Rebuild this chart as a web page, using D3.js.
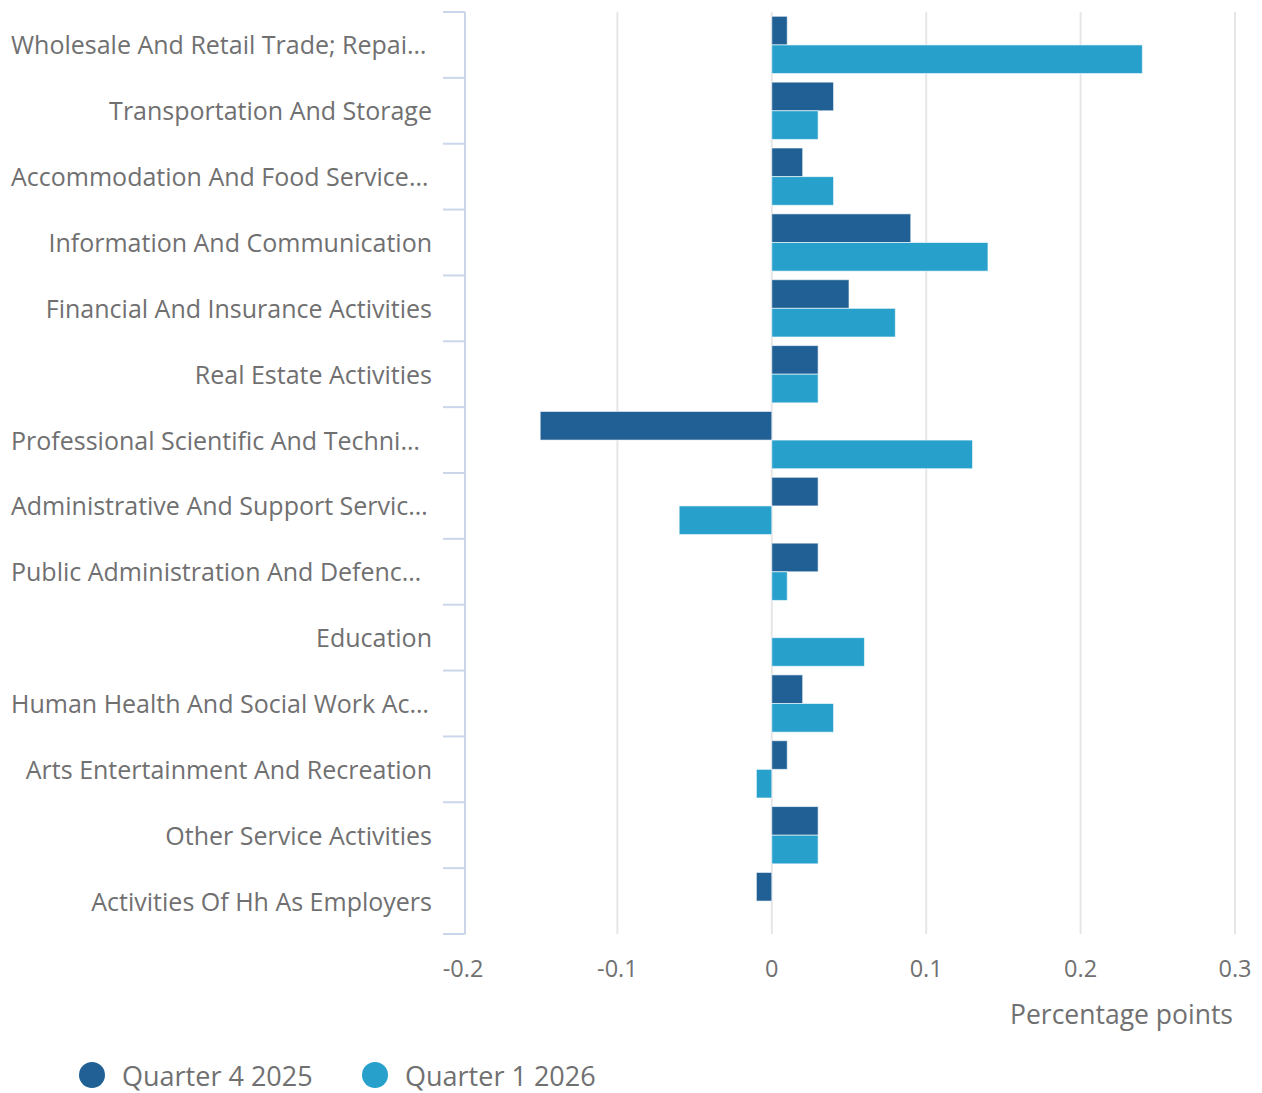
<!DOCTYPE html>
<html>
<head>
<meta charset="utf-8">
<script src="https://cdn.jsdelivr.net/npm/d3@7"></script>
<style>
  body { margin: 0; background: #fff; }
  text { font-family: "Open Sans", sans-serif; fill: #707071; }
</style>
</head>
<body>
<div id="chart"></div>
<script>
// data
var categories = [
  "Wholesale And Retail Trade; Repair Of Motor Vehicles And Motorcycles",
  "Transportation And Storage",
  "Accommodation And Food Service Activities",
  "Information And Communication",
  "Financial And Insurance Activities",
  "Real Estate Activities",
  "Professional Scientific And Technical Activities",
  "Administrative And Support Service Activities",
  "Public Administration And Defence; Compulsory Social Security",
  "Education",
  "Human Health And Social Work Activities",
  "Arts Entertainment And Recreation",
  "Other Service Activities",
  "Activities Of Hh As Employers"
];
var seriesNames = ["Quarter 4 2025", "Quarter 1 2026"];
var q4_2025 = [0.01, 0.04, 0.02, 0.09, 0.05, 0.03, -0.15, 0.03, 0.03, 0, 0.02, 0.01, 0.03, -0.01];
var q1_2026 = [0.24, 0.03, 0.04, 0.14, 0.08, 0.03, 0.13, -0.06, 0.01, 0.06, 0.04, -0.01, 0.03, 0];
var xTicks = [-0.2, -0.1, 0, 0.1, 0.2, 0.3];
var colors = ["#206095", "#27a0cc"];

var svgWidth = 1262;
var svgHeight = 1093;

var margin = { top: 12, right: 27, bottom: 159, left: 465 };
var width = svgWidth - margin.left - margin.right;
var height = svgHeight - margin.top - margin.bottom;

var svg = d3.select("#chart")
  .append("svg")
  .attr("width", svgWidth)
  .attr("height", svgHeight);

var chartGroup = svg.append("g")
  .attr("transform", `translate(${margin.left}, ${margin.top})`);

// scales
var xScale = d3.scaleLinear()
  .domain([-0.2, 0.3])
  .range([-2, width]);

var yScale = d3.scaleBand()
  .domain(categories)
  .range([0, height]);

var inner = d3.scaleBand()
  .domain([0, 1])
  .range([0, yScale.bandwidth()])
  .paddingOuter(0.15);

// gridlines
chartGroup.selectAll(".grid")
  .data(xTicks.filter(d => d !== -0.2))
  .enter()
  .append("line")
  .attr("x1", d => xScale(d))
  .attr("x2", d => xScale(d))
  .attr("y1", 0)
  .attr("y2", height)
  .attr("stroke", "#e6e6e6")
  .attr("stroke-width", 2);

// x tick labels
chartGroup.selectAll(".xlab")
  .data(xTicks)
  .enter()
  .append("text")
  .attr("x", d => xScale(d))
  .attr("y", height + 43)
  .attr("text-anchor", "middle")
  .attr("font-size", "23.5px")
  .text(d => String(d));

// bars
var series = [q4_2025, q1_2026];
series.forEach(function(vals, si) {
  var rows = vals.map((v, i) => ({ cat: categories[i], value: v }))
    .filter(d => d.value !== 0);
  chartGroup.selectAll(".bar" + si)
    .data(rows)
    .enter()
    .append("rect")
    .attr("x", d => xScale(Math.min(0, d.value)))
    .attr("width", d => Math.abs(xScale(d.value) - xScale(0)))
    .attr("y", d => yScale(d.cat) + inner(si))
    .attr("height", inner.bandwidth())
    .attr("fill", colors[si])
    .attr("stroke", "#ffffff")
    .attr("stroke-opacity", 0.6)
    .attr("stroke-width", 1);
});

// left axis line and ticks
chartGroup.append("line")
  .attr("x1", 0).attr("x2", 0)
  .attr("y1", 0).attr("y2", height)
  .attr("stroke", "#ccd6eb")
  .attr("stroke-width", 2);

var boundaries = categories.map(c => yScale(c)).concat([height]);
chartGroup.selectAll(".ytick")
  .data(boundaries)
  .enter()
  .append("line")
  .attr("x1", -22).attr("x2", 0)
  .attr("y1", d => d).attr("y2", d => d)
  .attr("stroke", "#ccd6eb")
  .attr("stroke-width", 2);

// category labels, truncated with an ellipsis
var maxLabel = 419;
chartGroup.selectAll(".ylab")
  .data(categories)
  .enter()
  .append("text")
  .attr("y", d => yScale(d) + yScale.bandwidth() / 2)
  .attr("dy", "0.38em")
  .attr("font-size", "25px")
  .each(function(d) {
    var t = d3.select(this).text(d);
    if (this.getComputedTextLength() > maxLabel) {
      var s = d;
      while (s.length > 1) {
        s = s.slice(0, -1);
        t.text(s.trimEnd() + "…");
        if (this.getComputedTextLength() <= maxLabel) break;
      }
      t.attr("x", 11 - margin.left).attr("text-anchor", "start");
    } else {
      t.attr("x", -33).attr("text-anchor", "end");
    }
  });

// axis title
chartGroup.append("text")
  .attr("x", width - 2)
  .attr("y", height + 90)
  .attr("text-anchor", "end")
  .attr("font-size", "26.5px")
  .text("Percentage points");

// legend
var legend = svg.append("g")
  .attr("transform", "translate(0, 1077)");
var legendX = [92, 375];
seriesNames.forEach(function(name, i) {
  legend.append("circle")
    .attr("cx", legendX[i])
    .attr("cy", -2)
    .attr("r", 13)
    .attr("fill", colors[i]);
  legend.append("text")
    .attr("x", legendX[i] + 30)
    .attr("y", 0)
    .attr("dy", "0.35em")
    .attr("font-size", "27px")
    .text(name);
});
</script>
</body>
</html>
